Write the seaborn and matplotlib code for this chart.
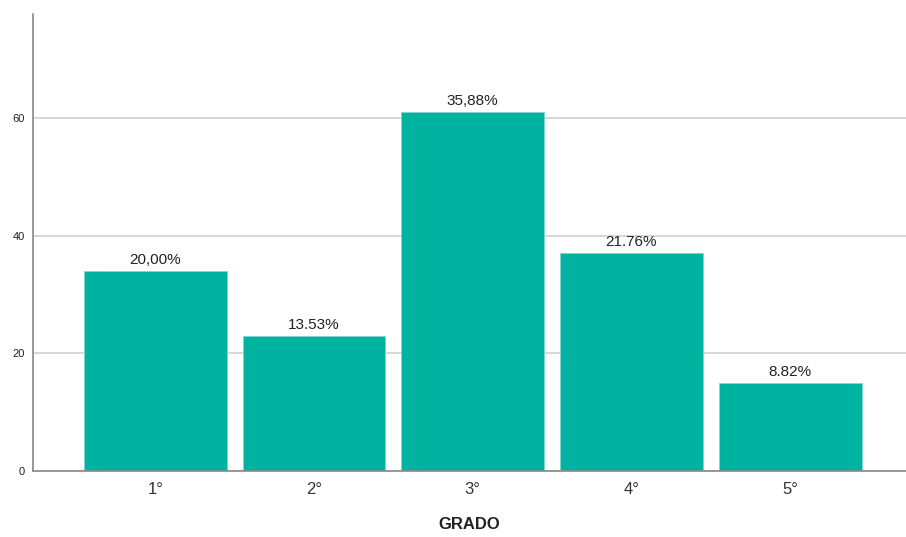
import matplotlib
matplotlib.use("Agg")
import matplotlib.pyplot as plt
import pandas as pd
import seaborn as sns

# datos
grados = ["1°", "2°", "3°", "4°", "5°"]
conteos = [34, 23, 61, 37, 15]
etiquetas = ["20,00%", "13.53%", "35,88%", "21.76%", "8.82%"]
yticks = [0, 20, 40, 60]

sns.set_style("white")
plt.rcParams["font.family"] = ["Liberation Sans", "DejaVu Sans"]

df = pd.DataFrame({"grado": grados, "n": conteos})

fig = plt.figure(figsize=(9.06, 5.37), dpi=100)
ax = fig.add_axes([33 / 906, 66 / 537, 1 - 33 / 906, (471 - 14) / 537])

sns.barplot(data=df, x="grado", y="n", color="#00B3A0", width=0.9,
            saturation=1, ax=ax, zorder=2)
for p in ax.patches:
    p.set_edgecolor("#7fd9cf")
    p.set_linewidth(0.6)

ax.bar_label(ax.containers[0], labels=etiquetas, padding=3, fontsize=11, color="#222222")

ax.set_xlim(-0.77, 4.73)
ax.set_ylim(0, 77.7)
ax.set_yticks(yticks)
ax.yaxis.grid(True, color="#d4d4d4", linewidth=1.3, zorder=0)
ax.set_axisbelow(True)
ax.tick_params(axis="y", labelsize=8, length=0, pad=6, colors="#222222")
ax.tick_params(axis="x", labelsize=12, length=0, pad=8, colors="#333333")

for s in ["top", "right"]:
    ax.spines[s].set_visible(False)
for s in ["left", "bottom"]:
    ax.spines[s].set_color("#888888")
    ax.spines[s].set_linewidth(1.2)

ax.set_ylabel("")
ax.set_xlabel("GRADO", fontsize=12, fontweight="bold", labelpad=14, color="#222222")

fig.savefig("out.png", dpi=100)
